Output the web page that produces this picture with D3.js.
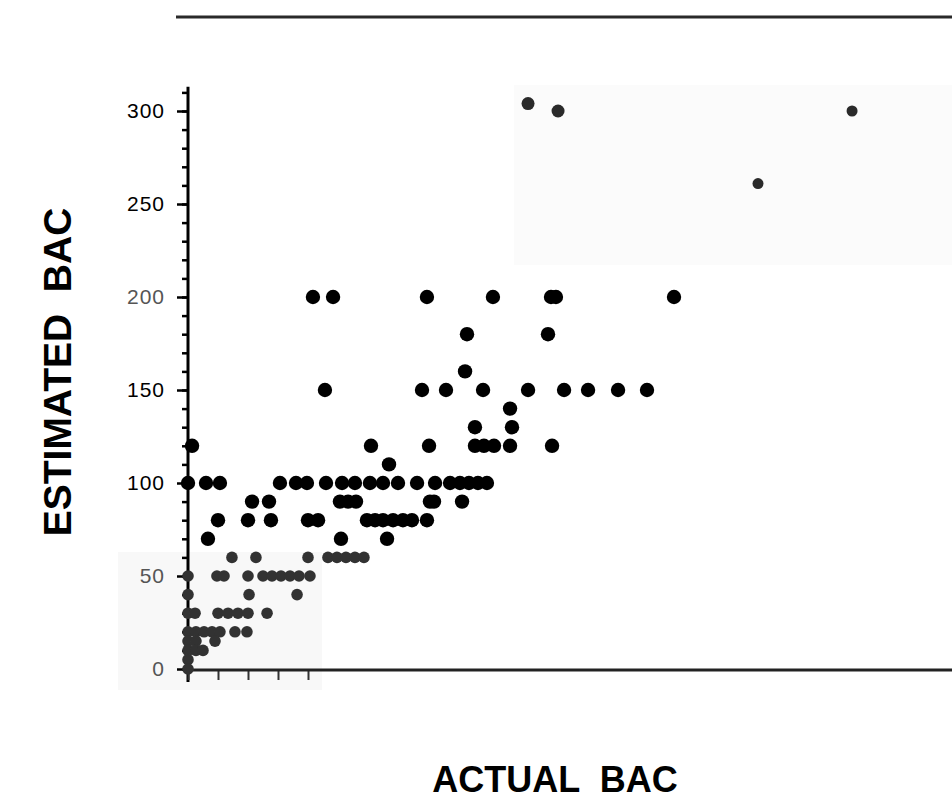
<!DOCTYPE html>
<html>
<head>
<meta charset="utf-8">
<script src="https://d3js.org/d3.v7.min.js"></script>
<style>
  body { margin: 0; background: #fff; }
  svg { display: block; }
  text { font-family: "Liberation Sans", Arial, Helvetica, sans-serif; }
</style>
</head>
<body>
<svg width="952" height="799"></svg>
<script>
// data: [actual BAC, estimated BAC]
// main (black) points
var mainPoints = [
  [83.3, 200], [96.7, 200], [159.3, 200], [203.3, 200], [242, 200], [245.3, 200], [324, 200],
  [186, 180], [240, 180],
  [184.7, 160],
  [91.3, 150], [156, 150], [172, 150], [196.7, 150], [226.7, 150], [250.7, 150], [266.7, 150], [286.7, 150], [306, 150],
  [214.7, 140],
  [191.3, 130], [216, 130],
  [2.7, 120], [122, 120], [160.7, 120], [191.3, 120], [197.3, 120], [204, 120], [214.7, 120], [242.7, 120],
  [134, 110],
  [0, 100], [12, 100], [21.3, 100], [61.3, 100], [72, 100], [79.3, 100], [92, 100], [102.7, 100], [111.3, 100],
  [121.3, 100], [130, 100], [140, 100], [152.7, 100], [164.7, 100], [174.7, 100], [181.3, 100], [187.3, 100],
  [193.3, 100], [199.3, 100],
  [42.7, 90], [54, 90], [101.3, 90], [106.7, 90], [112, 90], [161.3, 90], [164, 90], [182.7, 90],
  [20, 80], [40, 80], [55.3, 80], [80, 80], [86.7, 80], [119.3, 80], [124.7, 80], [130, 80], [136.7, 80],
  [143.3, 80], [149.3, 80], [159.3, 80],
  [13.3, 70], [102, 70], [132.7, 70]
];

// lower-left (grey scanned) points
var lowPoints = [
  [29.3, 60], [45.3, 60], [80, 60], [93.3, 60], [99.3, 60], [105.3, 60], [111.3, 60], [117.3, 60],
  [0, 50], [19.3, 50], [24, 50], [40, 50], [50, 50], [56, 50], [62, 50], [68, 50], [74, 50], [81.3, 50],
  [0, 40], [40.7, 40], [72.7, 40],
  [0, 30], [4.7, 30], [20, 30], [26.7, 30], [33.3, 30], [40, 30], [52.7, 30],
  [0, 20], [5.3, 20], [10.7, 20], [16, 20], [21.3, 20], [31.3, 20], [39.3, 20],
  [0, 15], [5.3, 15], [18, 15],
  [0, 10], [5.3, 10], [10, 10],
  [0, 5],
  [0, 0]
];

// upper-right points
var highPoints = [
  [226.7, 304], [246.7, 300], [380, 261], [442.7, 300]
];

var yMajorTicks = [0, 50, 100, 150, 200, 250, 300];
var yMinorTicks = d3.range(0, 311, 10);
var xTicks = [0, 20, 40, 60, 80];
var greyLabels = [0, 50, 200];

var svg = d3.select("svg");

// scales
var x = d3.scaleLinear()
    .domain([0, 510])
    .range([188, 953]);

var y = d3.scaleLinear()
    .domain([0, 300])
    .range([669, 111]);

// faint scan patches
svg.append("rect")
    .attr("x", 118).attr("y", 552)
    .attr("width", 204).attr("height", 138)
    .attr("fill", "#f8f8f8");

svg.append("rect")
    .attr("x", 514).attr("y", 85)
    .attr("width", 438).attr("height", 180)
    .attr("fill", "#fbfbfb");

// top rule
svg.append("line")
    .attr("x1", 176).attr("x2", 952)
    .attr("y1", 17).attr("y2", 17)
    .attr("stroke", "#2a2a2a")
    .attr("stroke-width", 3);

// y axis: minor ticks
svg.append("g")
    .attr("transform", "translate(" + x(0) + ",0)")
    .call(d3.axisLeft(y).tickValues(yMinorTicks).tickSize(6).tickFormat(""))
    .call(function(g){ g.select(".domain").remove(); })
    .selectAll("line")
    .attr("stroke", "#000")
    .attr("stroke-width", 2.5);

// y axis: major ticks + labels
var yAxis = svg.append("g")
    .attr("transform", "translate(" + x(0) + ",0)")
    .call(d3.axisLeft(y).tickValues(yMajorTicks).tickSize(11).tickPadding(12))
    .call(function(g){ g.select(".domain").remove(); });

yAxis.selectAll("line")
    .attr("stroke", "#000")
    .attr("stroke-width", 2.5);

yAxis.selectAll("text")
    .attr("font-size", 21)
    .attr("letter-spacing", 1)
    .attr("fill", function(d){ return greyLabels.indexOf(d) >= 0 ? "#555" : "#000"; })
    .style("font-family", "'Liberation Sans', Arial, sans-serif");

svg.append("line")
    .attr("x1", x(0)).attr("x2", x(0))
    .attr("y1", y(313)).attr("y2", y(-7))
    .attr("stroke", "#000")
    .attr("stroke-width", 3);

// x axis
var xAxis = svg.append("g")
    .attr("transform", "translate(0," + (y(0) + 1) + ")")
    .call(d3.axisBottom(x).tickValues(xTicks).tickSize(10).tickFormat(""))
    .call(function(g){ g.select(".domain").remove(); });

xAxis.selectAll("line")
    .attr("stroke", "#333")
    .attr("stroke-width", 2);

svg.append("line")
    .attr("x1", x(0) - 4).attr("x2", x(510))
    .attr("y1", y(0) + 1).attr("y2", y(0) + 1)
    .attr("stroke", "#222")
    .attr("stroke-width", 3);

// blur for the scanned dots
svg.append("defs").append("filter")
    .attr("id", "soft")
    .append("feGaussianBlur")
    .attr("stdDeviation", 0.7);

// points
svg.append("g").selectAll("circle")
    .data(lowPoints)
    .enter()
    .append("circle")
    .attr("cx", function(d){ return x(d[0]); })
    .attr("cy", function(d){ return y(d[1]); })
    .attr("r", 5.8)
    .attr("fill", "#333")
    .attr("filter", "url(#soft)");

svg.append("g").selectAll("circle")
    .data(highPoints)
    .enter()
    .append("circle")
    .attr("cx", function(d){ return x(d[0]); })
    .attr("cy", function(d){ return y(d[1]); })
    .attr("r", function(d, i){ return i < 2 ? 6.5 : 5.5; })
    .attr("fill", "#2a2a2a")
    .attr("filter", "url(#soft)");

svg.append("g").selectAll("circle")
    .data(mainPoints)
    .enter()
    .append("circle")
    .attr("cx", function(d){ return x(d[0]); })
    .attr("cy", function(d){ return y(d[1]); })
    .attr("r", 7.2)
    .attr("fill", "#000");

// axis titles
svg.append("text")
    .attr("x", 555)
    .attr("y", 792)
    .attr("text-anchor", "middle")
    .attr("font-size", 36)
    .attr("font-weight", "bold")
    .style("white-space", "pre")
    .text("ACTUAL  BAC");

svg.append("text")
    .attr("transform", "translate(71,372) rotate(-90)")
    .attr("text-anchor", "middle")
    .attr("font-size", 39)
    .attr("font-weight", "bold")
    .style("white-space", "pre")
    .text("ESTIMATED  BAC");
</script>
</body>
</html>
